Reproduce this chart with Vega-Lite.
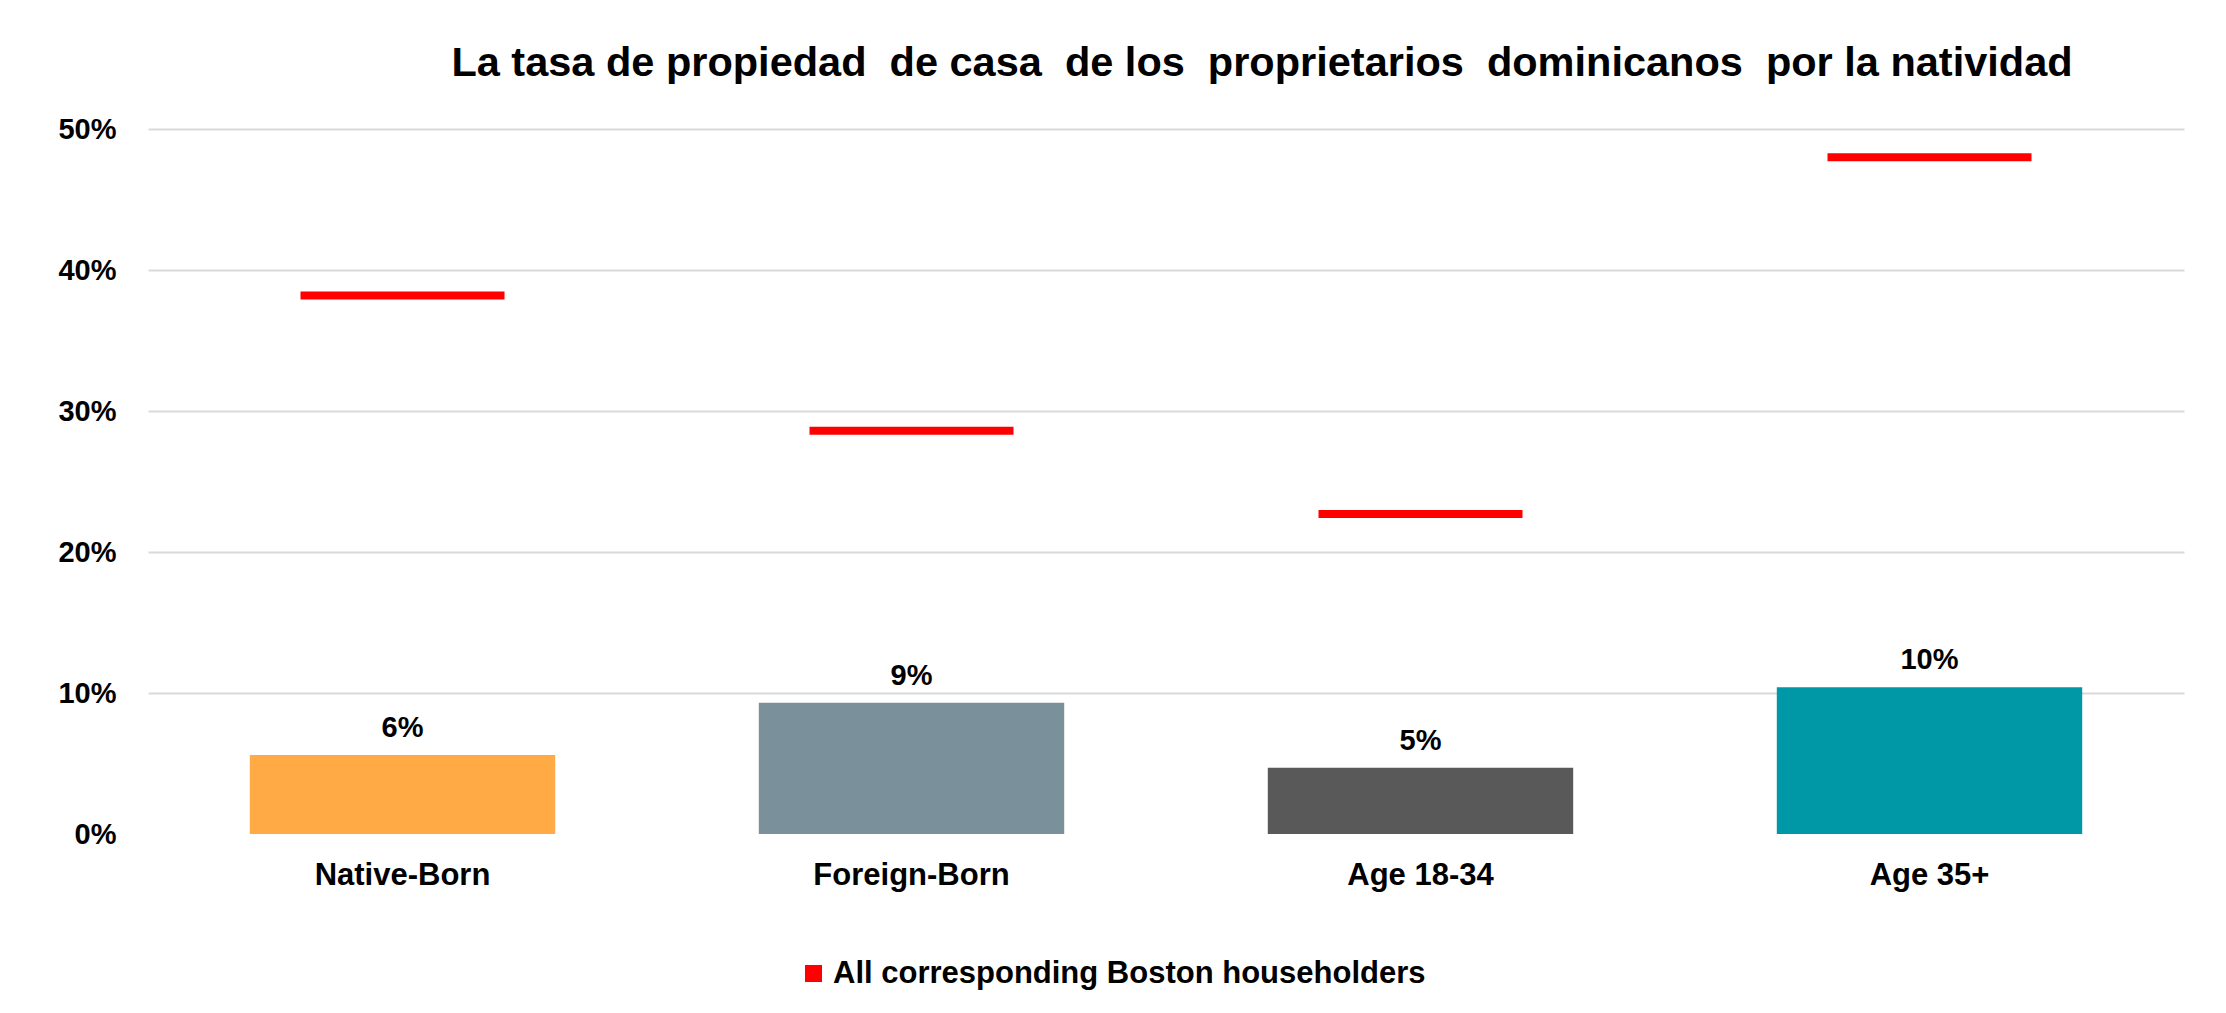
{
  "$schema": "https://vega.github.io/schema/vega-lite/v6.json",
  "width": 2036,
  "height": 705,
  "autosize": {"type": "none"},
  "padding": {"left": 148, "top": 129, "right": 42, "bottom": 179},
  "background": "white",
  "config": {
    "font": "Liberation Sans",
    "view": {"stroke": null},
    "axisY": {"labelFontSize": 29, "labelFontWeight": "bold", "labelColor": "black", "labelPadding": 32, "domain": false, "ticks": false, "gridWidth": 2}
  },
  "title": {
    "text": "La tasa de propiedad\u00a0 de casa\u00a0 de los\u00a0 proprietarios\u00a0 dominicanos\u00a0 por la natividad",
    "fontSize": 41.5,
    "fontWeight": "bold",
    "color": "black",
    "anchor": "middle",
    "frame": "group",
    "dx": 96,
    "offset": -2,
    "baseline": "alphabetic"
  },
  "data": {
    "values": [
      {"group": "Native-Born", "dominican": 0.056, "boston": 0.382},
      {"group": "Foreign-Born", "dominican": 0.093, "boston": 0.286},
      {"group": "Age 18-34", "dominican": 0.047, "boston": 0.227},
      {"group": "Age 35+", "dominican": 0.104, "boston": 0.48}
    ]
  },
  "encoding": {
    "x": {
      "field": "group",
      "type": "nominal",
      "sort": null,
      "title": null,
      "scale": {"paddingInner": 0.4, "paddingOuter": 0.2},
      "axis": {"labelAngle": 0, "labelFontSize": 31, "labelFontWeight": "bold", "labelColor": "black", "labelPadding": 26, "domain": false, "ticks": false, "labelLimit": 1000}
    }
  },
  "layer": [
    {
      "mark": {"type": "bar"},
      "encoding": {
        "y": {
          "field": "dominican",
          "type": "quantitative",
          "title": null,
          "scale": {"domain": [0, 0.5]},
          "axis": {
            "format": ".0%",
            "values": [0, 0.1, 0.2, 0.3, 0.4, 0.5],
            "gridColor": {"condition": {"test": "datum.value === 0", "value": "transparent"}, "value": "#D9D9D9"}
          }
        },
        "color": {
          "field": "group",
          "type": "nominal",
          "scale": {"domain": ["Native-Born", "Foreign-Born", "Age 18-34", "Age 35+"], "range": ["#FFAA44", "#7A909B", "#595959", "#0098A7"]},
          "legend": null
        }
      }
    },
    {
      "mark": {"type": "text", "fontSize": 29, "fontWeight": "bold", "dy": -18, "baseline": "alphabetic", "color": "black"},
      "encoding": {
        "y": {"field": "dominican", "type": "quantitative", "title": null},
        "text": {"field": "dominican", "type": "quantitative", "format": ".0%"}
      }
    },
    {
      "mark": {"type": "tick", "thickness": 8, "size": 204, "opacity": 1},
      "encoding": {
        "y": {"field": "boston", "type": "quantitative", "title": null},
        "color": {
          "datum": "All corresponding Boston householders",
          "scale": {"range": ["#FF0000"]},
          "legend": {"orient": "none", "legendX": 650, "legendY": 829, "title": null, "symbolType": "square", "symbolSize": 289, "symbolStrokeWidth": 0, "symbolOpacity": 1, "labelFontSize": 31, "labelFontWeight": "bold", "labelColor": "black", "labelLimit": 1000, "labelOffset": 4, "padding": 0}
        }
      }
    }
  ],
  "resolve": {"scale": {"color": "independent"}}
}
